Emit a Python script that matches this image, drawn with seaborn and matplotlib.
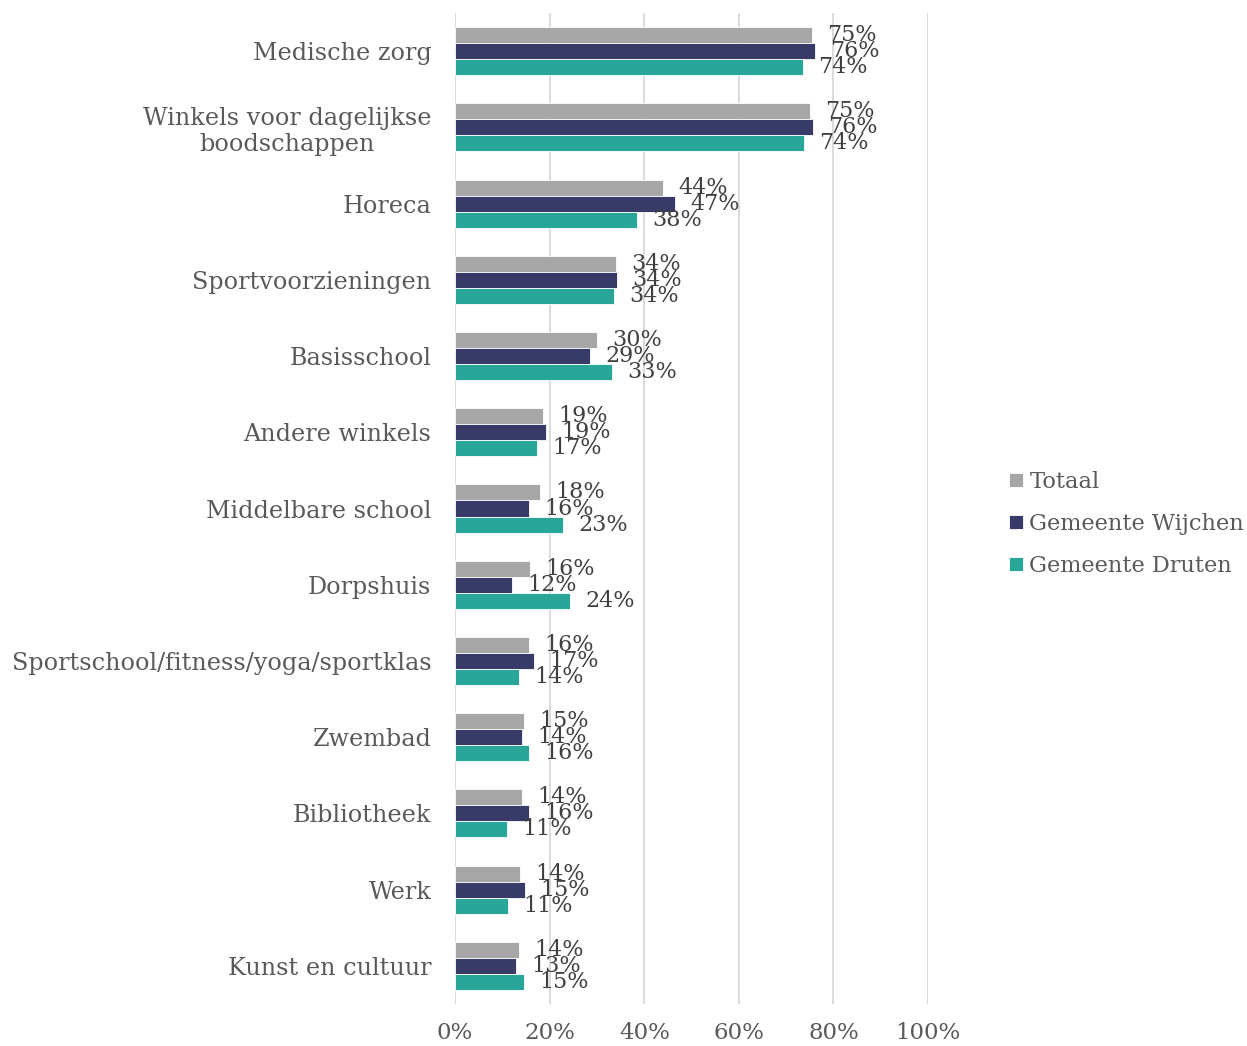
import matplotlib
matplotlib.use("Agg")
import matplotlib.pyplot as plt
import pandas as pd
import seaborn as sns

# ── data ────────────────────────────────────────────────────────────────────
categories = [
    "Medische zorg",
    "Winkels voor dagelijkse\nboodschappen",
    "Horeca",
    "Sportvoorzieningen",
    "Basisschool",
    "Andere winkels",
    "Middelbare school",
    "Dorpshuis",
    "Sportschool/fitness/yoga/sportklas",
    "Zwembad",
    "Bibliotheek",
    "Werk",
    "Kunst en cultuur",
]
series = ["Totaal", "Gemeente Wijchen", "Gemeente Druten"]
totaal = [75.4, 75.0, 44.0, 34.0, 30.0, 18.7, 18.0, 15.9, 15.6, 14.6, 14.2, 13.7, 13.5]
wijchen = [76.1, 75.6, 46.6, 34.2, 28.6, 19.2, 15.6, 12.0, 16.8, 14.2, 15.6, 14.8, 12.9]
druten = [73.6, 73.8, 38.4, 33.6, 33.2, 17.3, 22.8, 24.3, 13.6, 15.6, 11.0, 11.2, 14.6]

colors = ["#a6a6a6", "#383b68", "#2aa59a"]
TEXT = "#595959"

df = pd.DataFrame({
    "categorie": categories * 3,
    "reeks": [s for s in series for _ in categories],
    "waarde": totaal + wijchen + druten,
})

sns.set_theme(style="white")
plt.rcParams["font.family"] = ["DejaVu Serif", "DejaVu Sans"]

fig = plt.figure(figsize=(12.47, 10.46), dpi=100)
ax = fig.add_axes([455 / 1247, 1 - 1004 / 1046, (928 - 455) / 1247, 991 / 1046])

sns.barplot(data=df, y="categorie", x="waarde", hue="reeks", orient="h",
            palette=colors, width=0.63, gap=0, edgecolor="white", linewidth=0.6,
            saturation=1, ax=ax, legend=True)

for cont in ax.containers:
    ax.bar_label(cont, labels=[f"{round(b.get_width())}%" for b in cont],
                 padding=11, fontsize=16, color="#404040")

ax.set_xlim(0, 100)
ax.set_ylim(12.5, -0.5)
ax.set_xticks(range(0, 101, 20))
ax.set_xticklabels([f"{v}%" for v in range(0, 101, 20)], fontsize=16.5, color=TEXT)
ax.tick_params(axis="x", length=0, pad=13)
ax.tick_params(axis="y", length=0, pad=17)
for lab in ax.get_yticklabels():
    lab.set_fontsize(17.2)
    lab.set_color(TEXT)
    lab.set_multialignment("center")
ax.set_xlabel("")
ax.set_ylabel("")
ax.xaxis.grid(True, color="#dadada", linewidth=1.4)
ax.set_axisbelow(True)
for s in ax.spines.values():
    s.set_visible(False)

handles, labels = ax.get_legend_handles_labels()
ax.get_legend().remove()
fig.legend(handles, labels, loc="center left", bbox_to_anchor=(1000 / 1247, 1 - 524 / 1046),
           frameon=False, fontsize=16.2, labelcolor=TEXT, handlelength=0.6,
           handleheight=0.6, handletextpad=0.3, labelspacing=0.9, borderaxespad=0)

fig.savefig("out.png", dpi=100)
